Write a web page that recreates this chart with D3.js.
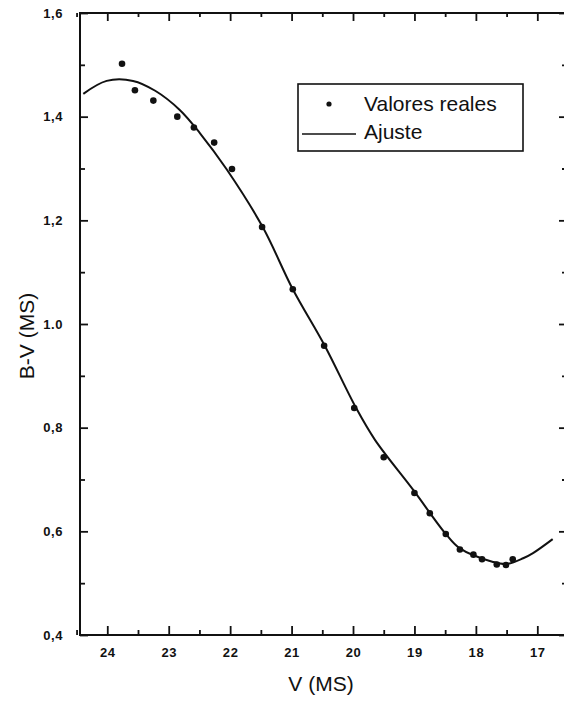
<!DOCTYPE html>
<html>
<head>
<meta charset="utf-8">
<script src="https://cdn.jsdelivr.net/npm/d3@7"></script>
<style>
  body { margin: 0; background: #fff; }
  svg { display: block; font-family: "Liberation Sans", Arial, sans-serif; }
</style>
</head>
<body>
<div id="chart"></div>
<script>
// measured points (V vs B-V)
var vVals  = [23.76, 23.55, 23.25, 22.86, 22.59, 22.26, 21.97, 21.48, 20.98, 20.47, 19.98, 19.50, 19.00, 18.75, 18.49, 18.26, 18.04, 17.90, 17.66, 17.51, 17.40];
var bvVals = [1.502, 1.451, 1.431, 1.400, 1.379, 1.350, 1.299, 1.187, 1.067, 0.958, 0.838, 0.743, 0.674, 0.635, 0.595, 0.565, 0.555, 0.546, 0.536, 0.535, 0.546];

// fitted curve
var fitV  = [24.39, 24.01, 23.58, 23.22, 22.82, 22.49, 22.06, 21.47, 20.98, 20.46, 19.95, 19.64, 19.02, 18.49, 18.26, 17.72, 17.50, 17.23, 17.07, 16.75];
var fitBV = [1.444, 1.469, 1.469, 1.450, 1.413, 1.368, 1.299, 1.187, 1.067, 0.958, 0.838, 0.776, 0.680, 0.595, 0.567, 0.541, 0.537, 0.548, 0.558, 0.585];

// ticks
var xTicks = [24, 23, 22, 21, 20, 19, 18, 17];
var xMinor = [24.5, 23.5, 22.5, 21.5, 20.5, 19.5, 18.5, 17.5, 16.5];
var yTicks = [1.6, 1.4, 1.2, 1.0, 0.8, 0.6, 0.4];
var yTickLabels = ["1,6", "1,4", "1,2", "1.0", "0,8", "0,6", "0,4"];
var yMinor = [1.5, 1.3, 1.1, 0.9, 0.7, 0.5];

var legendLabels = ["Valores reales", "Ajuste"];

var svgWidth = 564, svgHeight = 701;
// plot frame edges (avoid the name "top", it is window.top)
var pLeft = 80, pRight = 566, pTop = 13, pBottom = 635;

var svg = d3.select("#chart").append("svg")
    .attr("width", svgWidth)
    .attr("height", svgHeight);

// scales (V axis reversed)
var xSc = d3.scaleLinear()
    .domain([24.444, 16.533])
    .range([pLeft, pRight]);
var ySc = d3.scaleLinear()
    .domain([0.4, 1.6])
    .range([pBottom, pTop]);

// frame axes, ticks drawn inward
var xBottom = d3.axisBottom(xSc).tickValues(xTicks).tickSize(-9).tickFormat(d => d).tickPadding(13);
var xBottomMinor = d3.axisBottom(xSc).tickValues(xMinor).tickSize(-5).tickFormat("");
var xTop = d3.axisTop(xSc).tickValues(xTicks).tickSize(-8).tickFormat("");
var xTopMinor = d3.axisTop(xSc).tickValues(xMinor).tickSize(-4).tickFormat("");
var yLeft = d3.axisLeft(ySc).tickValues(yTicks).tickSize(-8)
    .tickFormat((d, i) => yTickLabels[i]).tickPadding(17);
var yLeftMinor = d3.axisLeft(ySc).tickValues(yMinor).tickSize(-5).tickFormat("");
var yRight = d3.axisRight(ySc).tickValues(yTicks).tickSize(-7).tickFormat("");
var yRightMinor = d3.axisRight(ySc).tickValues(yMinor).tickSize(-4).tickFormat("");

function drawAxis(ax, tx, ty) {
    var g = svg.append("g")
        .attr("transform", `translate(${tx}, ${ty})`)
        .call(ax);
    g.select(".domain").remove();
    g.selectAll(".tick line").attr("stroke", "#111").attr("stroke-width", 1.8);
    g.selectAll(".tick text")
        .attr("fill", "#111")
        .attr("font-size", 13)
        .attr("font-weight", "bold")
        .attr("letter-spacing", 0.6)
        .attr("font-family", "'Liberation Sans', Arial, sans-serif");
    return g;
}

drawAxis(xBottom, 0, pBottom);
drawAxis(xBottomMinor, 0, pBottom);
drawAxis(xTop, 0, pTop);
drawAxis(xTopMinor, 0, pTop);
drawAxis(yLeft, pLeft, 0);
drawAxis(yLeftMinor, pLeft, 0);
drawAxis(yRight, pRight, 0);
drawAxis(yRightMinor, pRight, 0);

// frame
svg.append("rect")
    .attr("x", pLeft).attr("y", pTop)
    .attr("width", pRight - pLeft).attr("height", pBottom - pTop)
    .attr("fill", "none")
    .attr("stroke", "#111")
    .attr("stroke-width", 2);

// fit line, smoothed
var fitData = fitV.map((v, i) => [v, fitBV[i]]);
var line = d3.line()
    .curve(d3.curveCatmullRom.alpha(0.5))
    .x(d => xSc(d[0]))
    .y(d => ySc(d[1]));

svg.append("path")
    .datum(fitData)
    .attr("d", line)
    .attr("fill", "none")
    .attr("stroke", "#111")
    .attr("stroke-width", 2)
    .attr("stroke-linejoin", "round");

// data points
svg.append("g")
    .selectAll("circle")
    .data(vVals.map((v, i) => [v, bvVals[i]]))
    .enter()
    .append("circle")
    .attr("cx", d => xSc(d[0]))
    .attr("cy", d => ySc(d[1]))
    .attr("r", 3.3)
    .attr("fill", "#111");

// axis titles
svg.append("text")
    .attr("x", 321)
    .attr("y", 691)
    .attr("text-anchor", "middle")
    .attr("font-size", 21)
    .attr("fill", "#111")
    .text("V (MS)");

svg.append("text")
    .attr("transform", "translate(34, 336) rotate(-90)")
    .attr("text-anchor", "middle")
    .attr("font-size", 21)
    .attr("fill", "#111")
    .text("B-V (MS)");

// legend
var lg = svg.append("g");
lg.append("rect")
    .attr("x", 298).attr("y", 84)
    .attr("width", 225).attr("height", 67)
    .attr("fill", "#fff")
    .attr("stroke", "#111")
    .attr("stroke-width", 1.6);
lg.append("circle")
    .attr("cx", 329).attr("cy", 104)
    .attr("r", 2.6)
    .attr("fill", "#111");
lg.append("line")
    .attr("x1", 302).attr("x2", 356)
    .attr("y1", 134).attr("y2", 134)
    .attr("stroke", "#111")
    .attr("stroke-width", 1.3);
lg.selectAll("text")
    .data(legendLabels)
    .enter()
    .append("text")
    .attr("x", 364)
    .attr("y", (d, i) => 111 + i * 28)
    .attr("font-size", 21)
    .attr("fill", "#111")
    .text(d => d);
</script>
</body>
</html>
